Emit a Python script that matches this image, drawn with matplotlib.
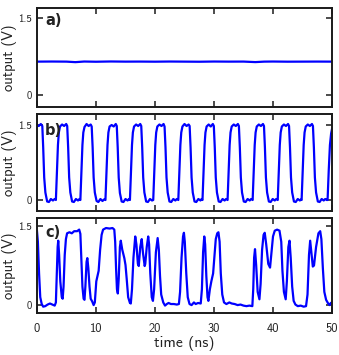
import matplotlib
matplotlib.use("Agg")
import matplotlib.pyplot as plt

# ---------------- data ----------------
a_time = [0.0, 2.5, 5.0, 6.5, 8.0, 10.0, 12.5, 15.0, 17.5, 20.0, 22.5, 25.0,
          27.5, 30.0, 32.5, 35.0, 37.0, 38.5, 40.0, 42.5, 45.0, 47.5, 50.0]
a_volt = [0.650, 0.652, 0.650, 0.640, 0.652, 0.648, 0.653, 0.650, 0.651, 0.649,
          0.652, 0.650, 0.648, 0.652, 0.650, 0.651, 0.641, 0.650, 0.652, 0.649,
          0.650, 0.651, 0.650]

b_time = [
    0.00, 0.30, 0.65, 0.90, 1.05, 1.22, 1.42, 1.72, 2.02, 2.35, 2.70, 3.00,
    3.20, 3.38, 3.55, 3.70, 3.90, 4.25, 4.60, 4.95, 5.12, 5.28, 5.45, 5.65, 5.95, 6.25, 6.60, 6.95, 7.20,
    7.35, 7.53, 7.70, 7.85, 8.05, 8.40, 8.75, 9.10, 9.27, 9.43, 9.60, 9.80, 10.10, 10.40, 10.75, 11.10, 11.35,
    11.60, 11.78, 11.95, 12.10, 12.30, 12.65, 13.00, 13.35, 13.52, 13.68, 13.85, 14.05, 14.35, 14.65, 15.00, 15.35, 15.60,
    15.75, 15.93, 16.10, 16.25, 16.45, 16.80, 17.15, 17.50, 17.67, 17.83, 18.00, 18.20, 18.50, 18.80, 19.15, 19.50,
    19.70, 19.88, 20.05, 20.20, 20.40, 20.75, 21.10, 21.45, 21.62, 21.78, 21.95, 22.15, 22.45, 22.75, 23.10, 23.45, 23.70,
    23.95, 24.13, 24.30, 24.45, 24.65, 25.00, 25.35, 25.70, 25.87, 26.03, 26.20, 26.40, 26.70, 27.00, 27.35, 27.70, 27.90,
    28.05, 28.23, 28.40, 28.55, 28.75, 29.10, 29.45, 29.80, 29.97, 30.13, 30.30, 30.50, 30.80, 31.10, 31.45, 31.80, 32.05,
    32.30, 32.48, 32.65, 32.80, 33.00, 33.35, 33.70, 34.05, 34.22, 34.38, 34.55, 34.75, 35.05, 35.35, 35.70, 36.05, 36.30,
    36.55, 36.73, 36.90, 37.05, 37.25, 37.60, 37.95, 38.30, 38.47, 38.63, 38.80, 39.00, 39.30, 39.60, 39.95, 40.30, 40.55,
    40.80, 40.98, 41.15, 41.30, 41.50, 41.85, 42.20, 42.55, 42.72, 42.88, 43.05, 43.25, 43.55, 43.85, 44.20, 44.55, 44.75,
    44.85, 45.03, 45.20, 45.35, 45.55, 45.90, 46.25, 46.60, 46.77, 46.93, 47.10, 47.30, 47.60, 47.90, 48.25, 48.60, 48.85, 49.10,
    49.25, 49.45, 49.65, 49.85, 50.00,
]
b_volt = [
    1.50, 1.48, 1.52, 1.48, 1.05, 0.45, 0.15, -0.03, -0.04, 0.02, -0.01, 0.02,
    0.00, 0.55, 1.10, 1.35, 1.47, 1.51, 1.48, 1.52, 1.48, 1.05, 0.45, 0.15, -0.03, -0.04, 0.02, -0.01, 0.02,
    0.00, 0.55, 1.10, 1.35, 1.46, 1.52, 1.48, 1.51, 1.47, 1.05, 0.45, 0.15, -0.02, -0.04, 0.02, -0.02, 0.01,
    0.00, 0.55, 1.10, 1.35, 1.47, 1.50, 1.47, 1.52, 1.48, 1.05, 0.45, 0.14, -0.03, -0.04, 0.02, -0.01, 0.02,
    0.00, 0.55, 1.10, 1.35, 1.47, 1.51, 1.48, 1.52, 1.48, 1.05, 0.45, 0.15, -0.03, -0.04, 0.02, -0.01,
    0.00, 0.55, 1.10, 1.35, 1.47, 1.51, 1.48, 1.52, 1.47, 1.05, 0.45, 0.15, -0.03, -0.04, 0.02, -0.01, 0.02,
    0.00, 0.55, 1.10, 1.35, 1.47, 1.52, 1.48, 1.51, 1.48, 1.05, 0.45, 0.15, -0.03, -0.04, 0.02, -0.01, 0.02,
    0.00, 0.55, 1.10, 1.35, 1.47, 1.51, 1.47, 1.52, 1.48, 1.05, 0.45, 0.15, -0.03, -0.04, 0.02, -0.01, 0.02,
    0.00, 0.55, 1.10, 1.35, 1.47, 1.51, 1.48, 1.52, 1.48, 1.05, 0.45, 0.15, -0.03, -0.04, 0.02, -0.01, 0.02,
    0.00, 0.55, 1.10, 1.35, 1.47, 1.51, 1.48, 1.52, 1.48, 1.05, 0.45, 0.15, -0.03, -0.04, 0.02, -0.01, 0.02,
    0.00, 0.55, 1.10, 1.35, 1.47, 1.51, 1.48, 1.52, 1.48, 1.05, 0.45, 0.15, -0.03, -0.04, 0.02, -0.01, 0.01,
    0.00, 0.55, 1.10, 1.35, 1.47, 1.51, 1.48, 1.52, 1.48, 1.05, 0.45, 0.15, -0.03, -0.04, 0.02, -0.01, 0.02, 0.00,
    0.00, 0.60, 1.10, 1.33, 1.42,
]

c_time = [0.0, 0.15, 0.35, 0.55, 0.8, 1.05, 1.4, 1.8, 2.2, 2.6, 3.0, 3.2, 3.35, 3.5, 3.6,
          3.75, 3.95, 4.2, 4.35, 4.5, 4.7, 4.9, 5.1, 5.5, 5.9, 6.3, 6.8, 7.15, 7.35, 7.5,
          7.7, 7.9, 8.05, 8.2, 8.4, 8.53, 8.7, 8.9, 9.1, 9.35, 9.6, 9.8, 10.05, 10.3, 10.45,
          10.7, 10.95, 11.2, 11.7, 12.3, 12.8, 13.1, 13.25, 13.4, 13.55, 13.7, 13.85, 14.05, 14.2,
          14.45, 14.8, 15.0, 15.2, 15.45, 15.75, 15.9, 16.1, 16.35, 16.65, 16.85, 17.1, 17.25,
          17.5, 17.75, 17.95, 18.25, 18.35, 18.6, 18.85, 19.0, 19.2, 19.45, 19.65, 19.85, 20.15,
          20.45, 20.65, 20.85, 21.05, 21.4, 21.7, 22.0, 22.3, 22.7, 23.2, 23.7, 24.05, 24.25,
          24.5, 24.75, 24.9, 25.05, 25.3, 25.55, 25.85, 26.2, 26.6, 26.9, 27.3, 27.75, 27.95,
          28.15, 28.35, 28.5, 28.7, 28.9, 29.05, 29.3, 29.55, 29.85, 30.05, 30.3, 30.55, 30.75,
          30.95, 31.15, 31.4, 31.7, 32.1, 32.6, 33.0, 33.5, 34.0, 34.5, 35.0, 35.5, 36.0, 36.5,
          36.65, 36.8, 36.95, 37.15, 37.4, 37.7, 37.9, 38.15, 38.4, 38.6, 38.85, 39.2, 39.5,
          39.75, 40.0, 40.3, 40.7, 41.1, 41.4, 41.6, 41.85, 42.15, 42.35, 42.6, 42.8, 43.0,
          43.25, 43.5, 43.8, 44.2, 44.7, 45.2, 45.6, 45.85, 46.1, 46.3, 46.5, 46.75, 46.95,
          47.3, 47.7, 48.0, 48.2, 48.45, 48.7, 49.0, 49.3, 49.6, 49.8, 50.0]
c_volt = [1.40, 1.20, 0.60, 0.15, 0.02, -0.03, -0.02, 0.01, 0.03, 0.01, -0.01, 0.05, 0.60, 1.10, 1.22,
          0.95, 0.45, 0.15, 0.12, 0.35, 0.95, 1.25, 1.36, 1.38, 1.36, 1.40, 1.40, 1.43, 1.35, 0.90,
          0.35, 0.12, 0.10, 0.35, 0.82, 0.89, 0.70, 0.35, 0.12, 0.07, 0.00, 0.05, 0.45, 0.58, 0.65,
          1.05, 1.33, 1.43, 1.46, 1.45, 1.46, 1.43, 1.20, 0.70, 0.30, 0.22, 0.50, 1.10, 1.22,
          1.05, 0.89, 0.76, 0.50, 0.15, 0.04, 0.03, 0.30, 0.90, 1.30, 1.15, 0.78, 0.74,
          1.10, 1.25, 1.00, 0.74, 0.78, 1.10, 1.30, 1.15, 0.60, 0.15, 0.08, 0.30, 1.00,
          1.27, 1.05, 0.55, 0.20, 0.05, -0.01, 0.02, 0.04, 0.02, 0.02, 0.01, 0.02, 0.25,
          0.90, 1.30, 1.37, 1.20, 0.60, 0.15, 0.02, 0.00, 0.05, 0.02, 0.04, 0.03, 0.30,
          1.00, 1.30, 1.15, 0.55, 0.15, 0.08, 0.30, 0.45, 0.60, 0.90, 1.25, 1.36, 1.38,
          1.20, 0.60, 0.20, 0.05, 0.02, 0.05, 0.03, 0.02, 0.00, 0.01, -0.01, -0.02, -0.01, -0.02,
          0.30, 0.90, 1.06, 0.75, 0.25, 0.11, 0.40, 1.05, 1.33, 1.37, 1.15, 0.78, 0.71,
          1.00, 1.30, 1.41, 1.43, 1.41, 1.20, 0.65, 0.25, 0.11, 0.45, 1.10, 1.22, 0.90,
          0.35, 0.08, 0.01, -0.02, -0.01, -0.03, -0.02, 0.20, 0.95, 1.22, 1.00, 0.73, 0.75,
          1.10, 1.36, 1.40, 1.25, 0.70, 0.25, 0.10, 0.04, 0.00, 0.04, 0.05]

panel_labels = ["a)", "b)", "c)"]
x_ticks = [0, 10, 20, 30, 40, 50]
y_ticks = [0, 1.5]
y_tick_labels = ["0", "1.5"]

# ---------------- figure ----------------
W, H = 339, 355
DPI = 100
fig = plt.figure(figsize=(W / DPI, H / DPI), dpi=DPI)
plt.rcParams['font.family'] = ['cmss10', 'DejaVu Sans']

def frac(left, top, right, bottom):
    return [left / W, 1 - bottom / H, (right - left) / W, (bottom - top) / H]

AX_LEFT, AX_RIGHT = 37, 332
rects = [frac(AX_LEFT, 8, AX_RIGHT, 107), frac(AX_LEFT, 114, AX_RIGHT, 210.5),
         frac(AX_LEFT, 218, AX_RIGHT, 313)]
ylims = [(-0.234, 1.695), (-0.21, 1.72), (-0.15, 1.65)]
label_y = [0.87, 0.83, 0.845]
series = [(a_time, a_volt), (b_time, b_volt), (c_time, c_volt)]
frame_col = '#1a1a1a'
text_col = '#222222'

axes = []
for i, (rect, yl, (t, v), lab, ly) in enumerate(zip(rects, ylims, series, panel_labels, label_y)):
    ax = fig.add_axes(rect)
    ax.plot(t, v, color='#0000ff', lw=1.6, solid_joinstyle='round')
    ax.set_xlim(0, 50)
    ax.set_ylim(*yl)
    ax.set_xticks(x_ticks)
    ax.set_yticks(y_ticks)
    ax.set_yticklabels(y_tick_labels)
    ax.tick_params(direction='in', length=4.5, width=1.1, top=True, right=True,
                   color=frame_col, labelcolor=text_col)
    ax.tick_params(axis='y', pad=7, labelsize=7.8)
    ax.tick_params(axis='x', pad=7, labelsize=9)
    for s in ax.spines.values():
        s.set_linewidth(1.4)
        s.set_color(frame_col)
    ax.set_ylabel("output (V)", fontsize=10.6, color=text_col)
    ax.yaxis.set_label_coords(-0.065, 0.5)
    ax.text(0.027, ly, lab, transform=ax.transAxes, fontsize=10.5,
            fontweight='bold', family='DejaVu Sans', va='center', ha='left', color=text_col)
    if i < 2:
        ax.set_xticklabels([])
    else:
        ax.set_xlabel("time (ns)", fontsize=11.3, color=text_col, labelpad=1)
    axes.append(ax)

# keep the y label inside the figure and clear of the tick labels
fig.canvas.draw()
r = fig.canvas.get_renderer()
ax_w_px = (AX_RIGHT - AX_LEFT)
for ax in axes:
    lb = ax.yaxis.label.get_window_extent(r)
    right_px = max(1.0 + lb.width, 17.0)
    ax.yaxis.set_label_coords((right_px - AX_LEFT) / ax_w_px, 0.5)
    tick_w = max(tl.get_window_extent(r).width for tl in ax.get_yticklabels())
    tick_right = max(right_px + 1.0 + tick_w, 27.0)
    pad_px = AX_LEFT - tick_right
    ax.tick_params(axis='y', pad=max(pad_px, 2.0) * 72.0 / DPI)

fig.savefig("out.png", dpi=DPI)
